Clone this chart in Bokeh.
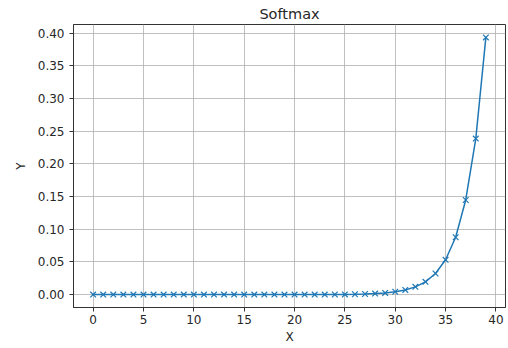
from bokeh.plotting import figure
from bokeh.models import Range1d, FixedTicker, CustomJSTickFormatter
from bokeh.embed import file_html
from bokeh.resources import INLINE

x_vals = list(range(40))
y_vals = [0.0] * 17 + [
    0.00001, 0.00001, 0.00002, 0.00003, 0.00005, 0.00008, 0.00013, 0.00022,
    0.00036, 0.00059, 0.00098, 0.00161, 0.00265, 0.00437, 0.00721, 0.01188,
    0.01959, 0.03230, 0.05325, 0.08780, 0.14475, 0.23865, 0.39347,
]
x_ticks = [0, 5, 10, 15, 20, 25, 30, 35, 40]
y_ticks = [0.0, 0.05, 0.10, 0.15, 0.20, 0.25, 0.30, 0.35, 0.40]
title_text = "Softmax"
x_label = "X"
y_label = "Y"

C = "#1f77b4"
FONT = "DejaVu Sans"

p = figure(width=508, height=348, output_backend="svg", toolbar_location=None,
           x_range=Range1d(-1.95, 40.95), y_range=Range1d(-0.0197, 0.4132),
           min_border_left=73, min_border_right=3, min_border_top=5, min_border_bottom=41,
           title=title_text)
p.background_fill_color = "white"
p.border_fill_color = "white"
p.outline_line_color = "#333333"
p.outline_line_width = 1

p.title.align = "center"
p.title.text_font = FONT
p.title.text_font_size = "14.5px"
p.title.text_font_style = "normal"
p.title.text_color = "#262626"
p.title.standoff = 6

for ax in (p.xaxis[0], p.yaxis[0]):
    ax.major_tick_in = 0
    ax.major_tick_out = 4
    ax.minor_tick_line_color = None
    ax.axis_line_color = "#333333"
    ax.major_tick_line_color = "#333333"
    ax.major_label_text_font = FONT
    ax.major_label_text_font_size = "12px"
    ax.major_label_text_color = "#262626"
    ax.axis_label_text_font = FONT
    ax.axis_label_text_font_size = "12px"
    ax.axis_label_text_font_style = "normal"
    ax.axis_label_text_color = "#262626"

p.xaxis.ticker = FixedTicker(ticks=x_ticks)
p.yaxis.ticker = FixedTicker(ticks=y_ticks)
p.yaxis.formatter = CustomJSTickFormatter(code="return tick.toFixed(2);")
p.xaxis.major_label_standoff = 3
p.yaxis.major_label_standoff = 5
p.xaxis.axis_label = x_label
p.yaxis.axis_label = y_label
p.xaxis.axis_label_standoff = 3
p.yaxis.axis_label_standoff = 7

p.xgrid.ticker = FixedTicker(ticks=x_ticks)
p.ygrid.ticker = FixedTicker(ticks=y_ticks)
for g in (p.xgrid[0], p.ygrid[0]):
    g.grid_line_color = "#b0b0b0"
    g.grid_line_width = 0.8

p.line(x_vals, y_vals, line_color=C, line_width=1.5)
p.scatter(x_vals, y_vals, marker="x", size=8, line_color=C, line_width=1.2)

open("out.html", "w").write(file_html(p, INLINE))
